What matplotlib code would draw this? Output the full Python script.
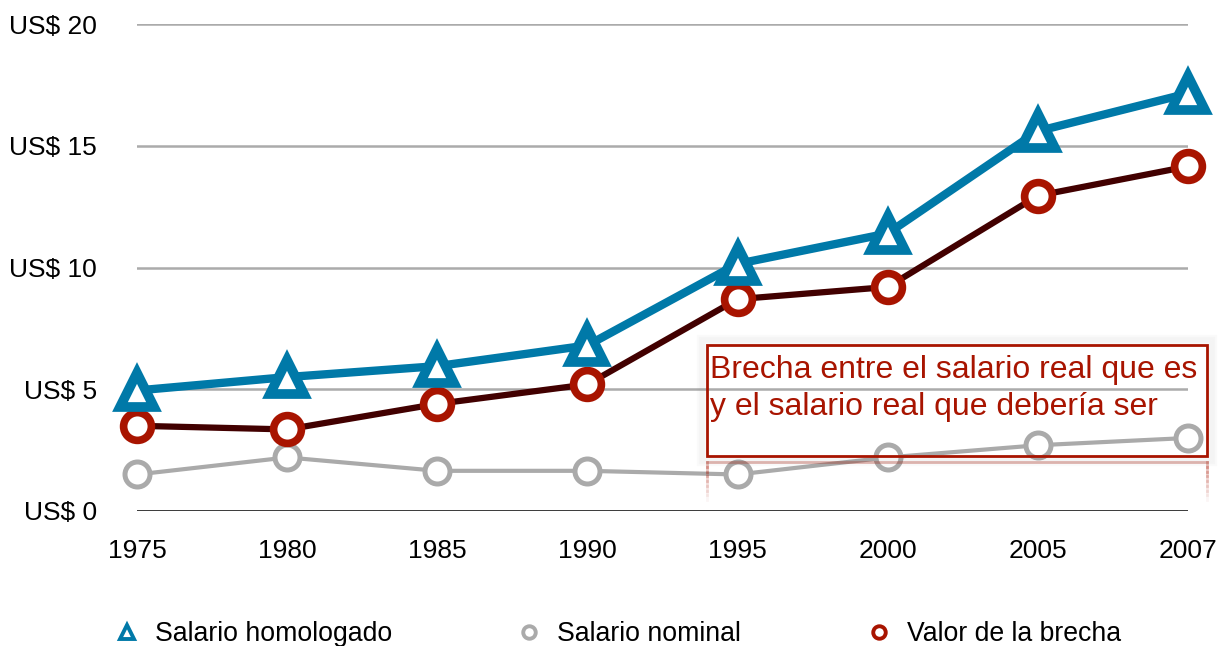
import matplotlib
matplotlib.use("Agg")
import matplotlib.pyplot as plt
from matplotlib.lines import Line2D
from matplotlib.patches import Rectangle

years = ["1975", "1980", "1985", "1990", "1995", "2000", "2005", "2007"]
homologado = [4.95, 5.5, 5.95, 6.8, 10.15, 11.4, 15.6, 17.15]
nominal = [1.5, 2.2, 1.65, 1.65, 1.5, 2.2, 2.7, 3.0]
brecha = [3.5, 3.35, 4.4, 5.2, 8.7, 9.2, 12.95, 14.15]
y_ticks = [0, 5, 10, 15, 20]
y_labels = ["US$ 0", "US$ 5", "US$ 10", "US$ 15", "US$ 20"]
note = "Brecha entre el salario real que es\ny el salario real que debería ser"

BLUE = "#0079A8"
RED = "#A81400"
DARK = "#420000"
GRAY = "#AAAAAA"


def px(x, y, W=1218, H=646):
    # pixel position (top-left origin) -> figure fraction
    return x / W, 1 - y / H


def main():
    plt.rcParams['font.family'] = ['Liberation Sans', 'DejaVu Sans']
    fig = plt.figure(figsize=(12.18, 6.46), dpi=100)
    ax = fig.add_axes([137 / 1218, 135 / 646, (1188 - 137) / 1218, (511 - 24) / 646])

    x = list(range(len(years)))
    for t in y_ticks[1:]:
        ax.axhline(t, color="#ABABAB", lw=1.8, zorder=1)
    ax.axhline(0, color="black", lw=1.8, zorder=1)

    ax.plot(x, nominal, color=GRAY, lw=3, marker="o", ms=18, mew=3.6,
            mfc="white", mec=GRAY, clip_on=False, zorder=3)
    ax.plot(x, brecha, color=DARK, lw=4.5, marker="o", ms=20, mew=5.5,
            mfc="white", mec=RED, clip_on=False, zorder=4)
    ax.plot(x, homologado, color=BLUE, lw=6, marker="^", ms=25, mew=7,
            mfc="white", mec=BLUE, clip_on=False, zorder=5)

    ax.set_xlim(0, len(years) - 1)
    ax.set_ylim(0, 20)
    ax.set_xticks(x)
    ax.set_xticklabels(years, fontsize=19)
    ax.set_yticks(y_ticks)
    ax.set_yticklabels(y_labels, fontsize=19)
    ax.tick_params(axis="x", length=0, pad=20)
    ax.tick_params(axis="y", length=0, pad=29)
    for s in ax.spines.values():
        s.set_visible(False)

    # annotation box with soft shadow and faint reflection
    x0, y0 = px(707, 456)
    x1, y1 = px(1207, 345)
    w, h = x1 - x0, y1 - y0
    for i in range(4):
        dx = (i + 1) * 2.0 / 1218
        dy = (i + 1) * 2.0 / 646
        fig.patches.append(Rectangle((x0 - dx, y0 - dy), w + 2 * dx, h + 2 * dy,
                                     transform=fig.transFigure, fc="none",
                                     ec="#808080", lw=3, alpha=0.035, zorder=6))
    fig.patches.append(Rectangle((x0, y0), w, h, transform=fig.transFigure,
                                 fc="none", ec=RED, lw=2, zorder=7))
    rx0, ry0 = px(707, 500)
    rx1, ry1 = px(1207, 462)
    for i in range(8):
        a = 0.3 * (1 - i / 8)
        yy = ry1 - i * (ry1 - ry0) / 8
        fig.add_artist(Line2D([rx0, rx0], [yy, yy - (ry1 - ry0) / 8],
                              transform=fig.transFigure, color=RED, lw=2, alpha=a))
        fig.add_artist(Line2D([rx1, rx1], [yy, yy - (ry1 - ry0) / 8],
                              transform=fig.transFigure, color=RED, lw=2, alpha=a))
    fig.add_artist(Line2D([rx0, rx1], [ry1, ry1], transform=fig.transFigure,
                          color=RED, lw=2, alpha=0.3))
    tx, ty = px(710, 355)
    fig.text(tx, ty, note, color=RED, fontsize=23, va="top", ha="left",
             linespacing=1.3, zorder=8)

    handles = [
        Line2D([], [], color=BLUE, marker="^", ls="none", ms=10, mew=2.8, mfc="white"),
        Line2D([], [], color=GRAY, marker="o", ls="none", ms=9, mew=2.8, mfc="white"),
        Line2D([], [], color=RED, marker="o", ls="none", ms=9, mew=2.8, mfc="white"),
    ]
    fig.legend(handles, ["Salario homologado", "Salario nominal", "Valor de la brecha"],
               loc="center", bbox_to_anchor=(617 / 1218, 12 / 646), ncol=3,
               frameon=False, fontsize=19.2, handlelength=1.0, handletextpad=0.55,
               columnspacing=4.65)

    fig.savefig("out.png", dpi=100)


if __name__ == "__main__":
    main()
